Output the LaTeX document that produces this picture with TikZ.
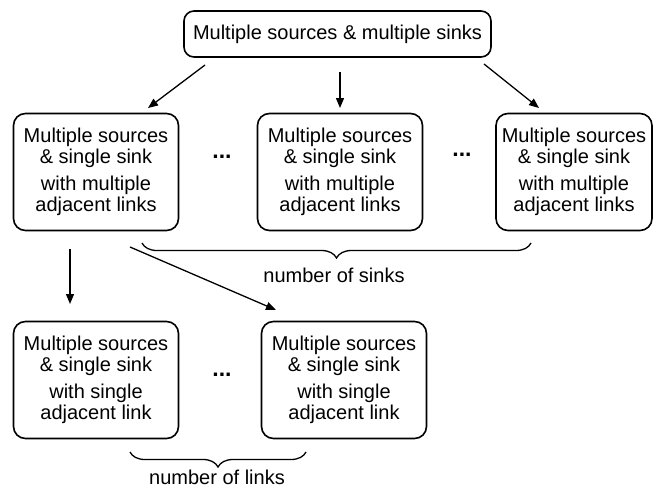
\documentclass[tikz,border=0pt]{standalone}
\usepackage{fontspec}
\setmainfont{Liberation Sans}
\usetikzlibrary{arrows.meta,decorations.pathreplacing}
\begin{document}
\begin{tikzpicture}[x=1pt,y=-1pt,
  box/.style={draw, rounded corners=12pt, line width=1.6pt, minimum height=117pt,
    align=center, font=\fontsize{20}{21}\selectfont, inner sep=0pt},
  topbox/.style={draw, rounded corners=10pt, line width=1.6pt, minimum width=307pt,
    minimum height=46pt, font=\fontsize{20}{21}\selectfont, inner sep=0pt},
  arr/.style={-{Triangle[length=10pt,width=8pt]}, line width=1.3pt},
  dots/.style={font=\bfseries\fontsize{23}{23}\selectfont},
  lbl/.style={font=\fontsize{20}{20}\selectfont},
  brc/.style={decorate, decoration={brace, mirror, amplitude=15pt}, line width=1.3pt}]
\useasboundingbox (0,0) rectangle (653,490);

\node[topbox] (top) at (337.5,34) {Multiple sources \& multiple sinks};

\node[box, minimum width=165pt] (m1) at (96,172) {Multiple sources\\ \& single sink\\[6pt] with multiple\\ adjacent links};
\node[box, minimum width=165pt] (m2) at (340,172) {Multiple sources\\ \& single sink\\[6pt] with multiple\\ adjacent links};
\node[box, minimum width=156pt] (m3) at (574,172) {Multiple sources\\ \& single sink\\[6pt] with multiple\\ adjacent links};

\node[box, minimum width=165pt] (b1) at (96,380) {Multiple sources\\ \& single sink\\[6pt] with single\\ adjacent link};
\node[box, minimum width=165pt] (b2) at (344,380) {Multiple sources\\ \& single sink\\[6pt] with single\\ adjacent link};

\node[dots] (d1) at (222,157) {...};
\node[dots] (d2) at (462,155) {...};
\node[dots] (d3) at (222,375) {...};

\coordinate (s1) at (205,65);  \coordinate (e1) at (148,108);
\coordinate (s2) at (340,72);  \coordinate (e2) at (340,108);
\coordinate (s3) at (484,64);  \coordinate (e3) at (539,108);
\coordinate (s4) at (70,249);  \coordinate (e4) at (70,304);
\coordinate (s5) at (130,247); \coordinate (e5) at (276,310);

\draw[arr] (s1) -- (e1);
\draw[arr] (s2) -- (e2);
\draw[arr] (s3) -- (e3);
\draw[arr] (s4) -- (e4);
\draw[arr] (s5) -- (e5);

\coordinate (bs1) at (142,243); \coordinate (be1) at (531,243);
\draw[brc] (bs1) -- (be1);
\node[lbl] (l1) at (334,275) {number of sinks};

\coordinate (bs2) at (130,452); \coordinate (be2) at (306,452);
\draw[brc] (bs2) -- (be2);
\node[lbl] (l2) at (217,477) {number of links};
\end{tikzpicture}
\end{document}
